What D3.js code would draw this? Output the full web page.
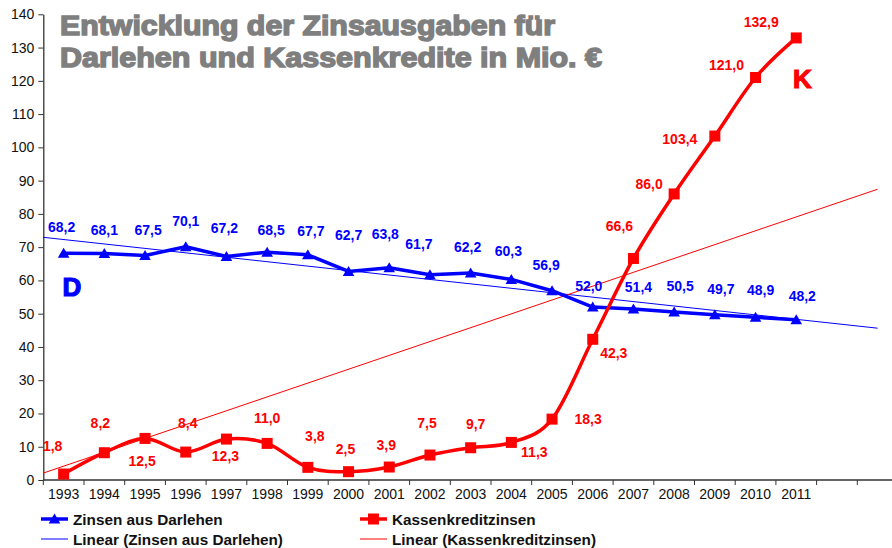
<!DOCTYPE html>
<html><head><meta charset="utf-8">
<script src="https://cdn.jsdelivr.net/npm/d3@7"></script>
<style>body{margin:0;background:#fff} svg{display:block;font-family:"Liberation Sans",Arial,sans-serif}</style>
</head><body><svg id="c" width="892" height="548"></svg>
<script>
// ---- data ----
const years = ["1993","1994","1995","1996","1997","1998","1999","2000","2001","2002","2003","2004","2005","2006","2007","2008","2009","2010","2011"];
const emptyCategories = ["2012","2013"];          // present on the axis, without labels
const darlehen = [68.2,68.1,67.5,70.1,67.2,68.5,67.7,62.7,63.8,61.7,62.2,60.3,56.9,52.0,51.4,50.5,49.7,48.9,48.2];
const kassen   = [1.8,8.2,12.5,8.4,12.3,11.0,3.8,2.5,3.9,7.5,9.7,11.3,18.3,42.3,66.6,86.0,103.4,121.0,132.9];
const yTicks = [0,10,20,30,40,50,60,70,80,90,100,110,120,130,140];
const seriesNames = ["Zinsen aus Darlehen","Kassenkreditzinsen"];
const trendNames = ["Linear (Zinsen aus Darlehen)","Linear (Kassenkreditzinsen)"];
const titleLines = ["Entwicklung der Zinsausgaben für","Darlehen und Kassenkredite in Mio. €"];

// ---- layout (label offsets relative to marker, px) ----
const dLabelOff = [[-2,-26],[0,-24],[3,-26],[0,-26],[-2,-29],[4,-22],[3,-24],[0,-36],[-4,-34],[-11,-31],[-3,-26],[-3,-28],[-6,-26],[-4,-21],[5,-22],[6,-26],[6,-26],[5,-27],[6,-24]];
const kLabelOff = [[-11,-28],[-4,-30],[-3,23],[2,-29],[-1,17],[0,-25],[7,-31],[-3,-23],[-3,-22],[-3,-32],[5,-24],[23,10],[36,0],[21,14],[-14,-32],[-25,-10],[-35,3],[-29,-13],[-35,-16]];

const BLUE = "#0000ff", RED = "#ff0000", GREY = "#7f7f7f";
const svg = d3.select("#c");
const allCats = years.concat(emptyCategories);
const x0 = 43.3, step = 40.7;
const xBand = d3.scaleBand().domain(d3.range(allCats.length)).range([x0, x0 + step*allCats.length]).padding(0);
const xIdx = d3.scaleLinear().domain([-0.5, allCats.length-0.5]).range([x0, x0 + step*allCats.length]);
const y = d3.scaleLinear().domain([0,140]).range([480,14.3]);
const fmt = v => v.toFixed(1).replace(".", ",");

svg.append("clipPath").attr("id","pc").append("rect").attr("x",0).attr("y",0).attr("width",892).attr("height",548);

// Y axis
const yAx = svg.append("g").attr("transform",`translate(${x0},0)`)
  .call(d3.axisLeft(y).tickValues(yTicks).tickSize(5).tickSizeOuter(0).tickPadding(4));
yAx.select(".domain").attr("stroke","#333").attr("stroke-width",1.3);
yAx.selectAll(".tick line").attr("stroke","#333");
yAx.selectAll("text").attr("font-size",14).attr("fill","#111").attr("font-family","Liberation Sans, Arial, sans-serif");

// X axis
svg.append("line").attr("x1",x0).attr("x2",892).attr("y1",y(0)).attr("y2",y(0)).attr("stroke","#333").attr("stroke-width",1.3);
svg.append("g").selectAll("line").data(d3.range(allCats.length+1)).join("line")
  .attr("x1",i=>x0+step*i).attr("x2",i=>x0+step*i).attr("y1",y(0)).attr("y2",y(0)+5).attr("stroke","#333");
svg.append("g").selectAll("text").data(years).join("text")
  .attr("x",(d,i)=>xBand(i)+xBand.bandwidth()/2).attr("y",y(0)+19)
  .attr("text-anchor","middle").attr("font-size",14).attr("fill","#111").text(d=>d);

// trend lines
const idx = d3.range(years.length);
const mx = d3.mean(idx), myD = d3.mean(darlehen);
const slopeD = d3.sum(idx, i=>(i-mx)*(darlehen[i]-myD)) / d3.sum(idx, i=>(i-mx)*(i-mx));
const trendD = t => myD + slopeD*(t-mx);
// Kassenkredit trend: linear through origin (Excel x = 1..n)
const slopeK = d3.sum(idx, i=>(i+1)*kassen[i]) / d3.sum(idx, i=>(i+1)*(i+1));
const trendK = t => slopeK*(t+1);
const tStart = -0.5, tEnd = years.length - 1 + 2;
const g = svg.append("g").attr("clip-path","url(#pc)");
g.append("line").attr("x1",xIdx(tStart)).attr("x2",xIdx(tEnd)).attr("y1",y(trendD(tStart))).attr("y2",y(trendD(tEnd)))
  .attr("stroke",BLUE).attr("stroke-width",1);
g.append("line").attr("x1",xIdx(tStart)).attr("x2",xIdx(tEnd)).attr("y1",y(trendK(tStart))).attr("y2",y(trendK(tEnd)))
  .attr("stroke",RED).attr("stroke-width",1);

// series lines
g.append("path").datum(darlehen)
  .attr("d", d3.line().x((d,i)=>xIdx(i)).y(d=>y(d)))
  .attr("fill","none").attr("stroke",BLUE).attr("stroke-width",3.5).attr("stroke-linejoin","round");
g.append("path").datum(kassen)
  .attr("d", d3.line().x((d,i)=>xIdx(i)).y(d=>y(d)).curve(d3.curveCardinal.tension(0)))
  .attr("fill","none").attr("stroke",RED).attr("stroke-width",3.5).attr("stroke-linejoin","round");

// markers
const tri = (cx,cy)=>`M${cx},${cy-5.5}L${cx+5.8},${cy+4.5}L${cx-5.8},${cy+4.5}Z`;
g.append("g").selectAll("path").data(darlehen).join("path")
  .attr("d",(d,i)=>tri(xIdx(i),y(d))).attr("fill",BLUE);
g.append("g").selectAll("rect").data(kassen).join("rect")
  .attr("x",(d,i)=>xIdx(i)-5.5).attr("y",d=>y(d)-5.5).attr("width",11).attr("height",11).attr("fill",RED);

// data labels
svg.append("g").selectAll("text").data(darlehen).join("text")
  .attr("x",(d,i)=>xIdx(i)+dLabelOff[i][0]).attr("y",(d,i)=>y(d)+dLabelOff[i][1])
  .attr("dy","0.36em").attr("text-anchor","middle").attr("font-size",14).attr("font-weight","bold")
  .attr("fill",BLUE).text(fmt);
svg.append("g").selectAll("text").data(kassen).join("text")
  .attr("x",(d,i)=>xIdx(i)+kLabelOff[i][0]).attr("y",(d,i)=>y(d)+kLabelOff[i][1])
  .attr("dy","0.36em").attr("text-anchor","middle").attr("font-size",14).attr("font-weight","bold")
  .attr("fill",RED).text(fmt);

// title
const tl = [495, 542];
titleLines.forEach((t,i)=>{
  svg.append("text").attr("x",60).attr("y",35+i*32).attr("font-size",28).attr("font-weight","bold")
    .attr("fill",GREY).attr("stroke",GREY).attr("stroke-width",1.5).attr("paint-order","stroke")
    .attr("textLength",tl[i]).attr("lengthAdjust","spacingAndGlyphs").text(t);
});

// D and K
svg.append("text").attr("x",62.5).attr("y",295.5).attr("font-size",26).attr("font-weight","bold")
  .attr("fill",BLUE).attr("stroke",BLUE).attr("stroke-width",1.2).text("D");
svg.append("text").attr("x",793).attr("y",87.5).attr("font-size",26).attr("font-weight","bold")
  .attr("fill",RED).attr("stroke",RED).attr("stroke-width",1.2).text("K");

// legend
const leg = svg.append("g").attr("font-size",15.3).attr("font-weight","bold").attr("fill","#111");
const legCols = [41, 360];
[0,1].forEach(c=>{
  const col = c===0?BLUE:RED, lx = legCols[c];
  leg.append("line").attr("x1",lx).attr("x2",lx+27).attr("y1",519).attr("y2",519).attr("stroke",col).attr("stroke-width",3.5);
  if(c===0) leg.append("path").attr("d",tri(lx+13.5,519)).attr("fill",col);
  else leg.append("rect").attr("x",lx+13.5-5.5).attr("y",519-5.5).attr("width",11).attr("height",11).attr("fill",col);
  leg.append("text").attr("x",lx+32).attr("y",519).attr("dy","0.36em").text(seriesNames[c]);
  leg.append("line").attr("x1",lx).attr("x2",lx+27).attr("y1",539).attr("y2",539).attr("stroke",col).attr("stroke-width",1);
  leg.append("text").attr("x",lx+32).attr("y",539).attr("dy","0.36em").text(trendNames[c]);
});
</script></body></html>
